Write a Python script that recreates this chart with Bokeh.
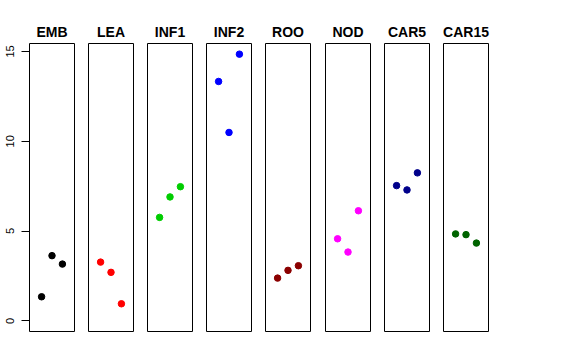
from bokeh.plotting import figure
from bokeh.layouts import row
from bokeh.models import Range1d, FixedTicker
from bokeh.embed import file_html
from bokeh.resources import INLINE

categories = ["EMB", "LEA", "INF1", "INF2", "ROO", "NOD", "CAR5", "CAR15"]
colors = ["#000000", "#FF0000", "#00CD00", "#0000FF", "#8B0000", "#FF00FF", "#00008B", "#006400"]
positions = [1, 2, 3]
emb = [1.34, 3.63, 3.16]
lea = [3.27, 2.70, 0.95]
inf1 = [5.76, 6.90, 7.47]
inf2 = [13.33, 10.49, 14.85]
roo = [2.38, 2.81, 3.07]
nod = [4.57, 3.83, 6.13]
car5 = [7.53, 7.29, 8.24]
car15 = [4.84, 4.80, 4.33]
series = [emb, lea, inf1, inf2, roo, nod, car5, car15]
y_ticks = [0, 5, 10, 15]

ymin, ymax = 0.0, 14.85
ypad = 0.04 * (ymax - ymin)
xmin, xmax = 0.0, 4.0
xpad = 0.04 * (xmax - xmin)

left_borders = [29, 7, 7, 7, 7, 8, 7, 7]
right_borders = [7, 7, 7, 7, 7, 7, 7, 10]

figs = []
for i, (cat, vals, col) in enumerate(zip(categories, series, colors)):
    p = figure(frame_width=45, frame_height=288, output_backend="svg", toolbar_location=None,
               x_range=Range1d(xmin - xpad, xmax + xpad), y_range=Range1d(ymin - ypad, ymax + ypad),
               min_border_left=left_borders[i], min_border_right=right_borders[i],
               min_border_top=43, min_border_bottom=12,
               x_axis_location=None, y_axis_location="left" if i == 0 else None,
               title=cat)
    p.title.text_font = "Liberation Sans"
    p.title.text_font_size = "14px"
    p.title.text_font_style = "bold"
    p.title.text_color = "black"
    p.title.align = "center"
    p.title.standoff = 8
    p.xgrid.visible = False
    p.ygrid.visible = False
    p.outline_line_color = "black"
    p.outline_line_width = 1
    p.background_fill_color = "white"
    p.border_fill_color = "white"
    if i == 0:
        ax = p.yaxis[0]
        ax.ticker = FixedTicker(ticks=y_ticks)
        ax.major_label_orientation = "vertical"
        ax.major_label_text_font = "Liberation Sans"
        ax.major_label_text_font_size = "11px"
        ax.major_label_text_color = "black"
        ax.major_label_standoff = 7
        ax.major_tick_out = 8
        ax.major_tick_in = 0
        ax.minor_tick_out = 0
        ax.minor_tick_in = 0
        ax.axis_line_color = None
        ax.major_tick_line_color = "black"
    p.scatter(positions, vals, size=6.5, color=col, line_color=col)
    figs.append(p)

layout = row(*figs, spacing=0)
open("out.html", "w").write(file_html(layout, INLINE))
